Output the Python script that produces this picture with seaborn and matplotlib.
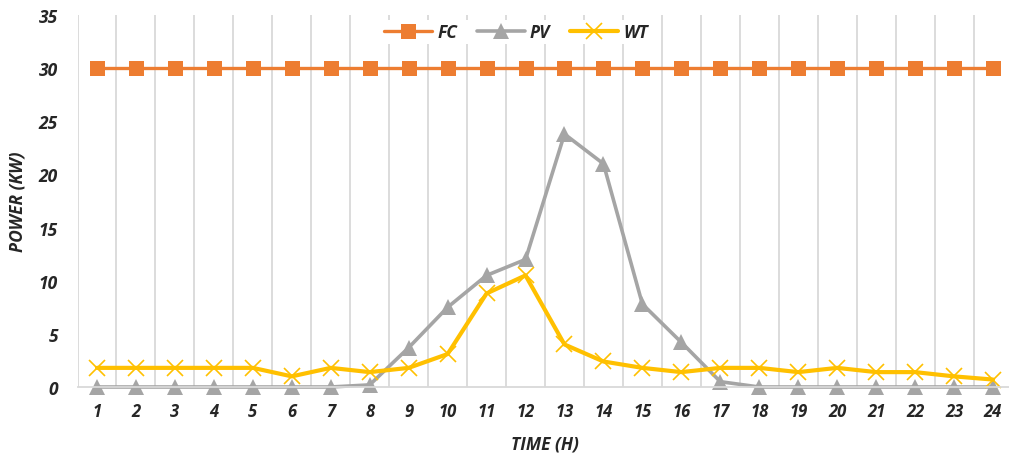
import numpy as np
import pandas as pd
import matplotlib
matplotlib.use("Agg")
import matplotlib.pyplot as plt
import seaborn as sns

# Hourly power output of each source (kW)
hours = list(range(1, 25))
fc_power = [30] * 24
pv_power = [0, 0, 0, 0, 0, 0, 0, 0.2, 3.7, 7.5, 10.5, 12.0,
            23.8, 21.0, 7.8, 4.2, 0.5, 0, 0, 0, 0, 0, 0, 0]
wt_power = [1.8, 1.8, 1.8, 1.8, 1.8, 1.0, 1.8, 1.4, 1.8, 3.1, 8.8, 10.5,
            4.0, 2.4, 1.8, 1.4, 1.8, 1.8, 1.4, 1.8, 1.4, 1.4, 1.0, 0.7]
y_ticks = [0, 5, 10, 15, 20, 25, 30, 35]

sns.set_style("white")
plt.rcParams["font.family"] = ["Open Sans", "DejaVu Sans"]
plt.rcParams["font.weight"] = "bold"
plt.rcParams["font.style"] = "italic"

fig = plt.figure(figsize=(10.09, 4.56), dpi=100)
ax = fig.add_axes([77.5 / 1009, 1 - 388 / 456, 935 / 1009, 372 / 456])

df = pd.DataFrame({"hour": hours, "FC": fc_power, "PV": pv_power, "WT": wt_power})

sns.lineplot(data=df, x="hour", y="FC", ax=ax, color="#ED7D31", lw=2.4,
             marker="s", markersize=10.8, markeredgecolor="#ED7D31",
             markeredgewidth=0, label="FC", clip_on=False)
sns.lineplot(data=df, x="hour", y="PV", ax=ax, color="#A5A5A5", lw=2.6,
             marker="^", markersize=11, markeredgecolor="#A5A5A5",
             markeredgewidth=0, label="PV", clip_on=False)
sns.lineplot(data=df, x="hour", y="WT", ax=ax, color="#FFC000", lw=3.0,
             marker="x", markersize=11, markeredgecolor="#FFC000",
             markeredgewidth=1.2, label="WT", clip_on=False)

tick_font = dict(fontweight="bold", fontstyle="italic")

ax.set_xlim(0.5, 24.5)
ax.set_ylim(0, 35)
ax.set_xticks(hours)
ax.set_xticklabels([str(h) for h in hours], fontsize=12, **tick_font)
ax.set_yticks(y_ticks)
ax.set_yticklabels([str(v) for v in y_ticks], fontsize=12.5, **tick_font)
ax.set_xticks(np.arange(0.5, 25, 1), minor=True)
ax.tick_params(axis="both", which="both", length=0)
ax.tick_params(axis="y", pad=14)
ax.tick_params(axis="x", pad=11)
ax.grid(False)
ax.grid(which="minor", axis="x", color="#D9D9D9", lw=1.3)
ax.set_axisbelow(True)

for side in ("top", "right", "left"):
    ax.spines[side].set_visible(False)
ax.spines["bottom"].set_color("#D9D9D9")
ax.spines["bottom"].set_linewidth(1.3)

ax.set_xlabel("TIME (H)", fontsize=12.5, labelpad=10, **tick_font)
ax.set_ylabel("POWER (KW)", fontsize=12.5, labelpad=9, **tick_font)

leg = ax.legend(loc="center", bbox_to_anchor=(516 / 1009, 1 - 33 / 456),
                bbox_transform=fig.transFigure, ncol=3, frameon=True,
                facecolor="white", edgecolor="none", framealpha=1,
                handlelength=2.75, handletextpad=0.3,
                columnspacing=1.15, borderpad=0.2,
                prop=dict(family=["Open Sans", "DejaVu Sans"], size=12.5,
                          weight="bold", style="italic"))

fig.savefig("out.png", dpi=100)
